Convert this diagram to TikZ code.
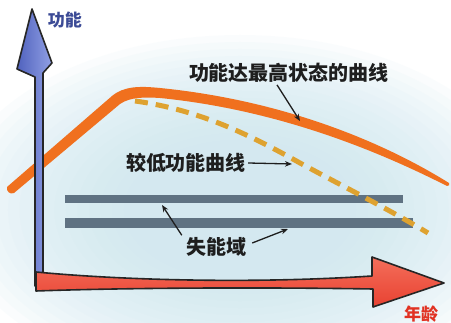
\documentclass[tikz,border=0pt]{standalone}
\usepackage{fontspec}
\newfontfamily\cjk{Noto Sans CJK SC}
\usetikzlibrary{arrows.meta}
\definecolor{glowc}{RGB}{205,232,240}
\definecolor{orangec}{RGB}{240,112,30}
\definecolor{dashc}{RGB}{222,162,48}
\definecolor{barc}{RGB}{95,114,130}
\definecolor{redc}{RGB}{232,66,50}
\definecolor{redl}{RGB}{244,110,90}
\definecolor{bluec}{RGB}{80,98,190}
\definecolor{bluel}{RGB}{145,160,228}
\definecolor{bluetext}{RGB}{60,75,150}
\definecolor{redtext}{RGB}{225,50,35}
\definecolor{textc}{RGB}{30,30,30}
\begin{document}
\begin{tikzpicture}[x=1pt,y=-1pt,
  lbl/.style={font=\cjk\bfseries\fontsize{20}{20}\selectfont, text=textc, inner sep=2pt},
  axlbl/.style={font=\cjk\bfseries\fontsize{17}{17}\selectfont, inner sep=1pt},
  pointer/.style={draw=textc, line width=1.3pt, -{Stealth[length=7pt,width=5.5pt]}},
  bar/.style={fill=barc},
  glowlayer/.style={fill=glowc, fill opacity=0.09},
  outline/.style={draw=black!85, line width=1.6pt, line join=round}]

\useasboundingbox (0,0) rectangle (451,323);
\fill[white] (0,0) rectangle (451,323);
\begin{scope}
  \clip (0,0) rectangle (451,323);
  \foreach \s in {1.00,0.96,...,0.40}
    \fill[glowlayer] (240,210) ellipse [x radius=\s*290pt, y radius=\s*175pt];
\end{scope}

% disability bars
\fill[bar] (65,195) rectangle (403,203);
\fill[bar] (65,218) rectangle (413,228);

% lower function curve (dashed)
\draw[dashc, line width=5pt, dash pattern=on 13pt off 8pt]
  (135,101) .. controls (200,110) and (250,135) .. (300,163)
  .. controls (350,190) and (390,210) .. (428,233);

% peak function curve (orange brush stroke)
\fill[orangec]
  (7,187) -- (112,96) .. controls (124,86) and (140,86) .. (160,88)
  .. controls (280,100) and (380,140) .. (449,183)
  .. controls (450,185) and (449,186) .. (447,186)
  .. controls (380,152) and (280,110) .. (160,98)
  .. controls (145,97) and (130,97) .. (120,104)
  -- (14,193) .. controls (10,195) and (6,191) .. (7,187) -- cycle;

% vertical axis (blue arrow)
\draw[outline, left color=bluec, right color=bluel]
  (35,286) -- (35,77) -- (17,69) -- (32,9) -- (52,63) -- (43,73) -- (43,286) -- cycle;

% horizontal axis (red arrow)
\draw[outline, top color=redl, bottom color=redc]
  (36,272) .. controls (120,280) and (250,284) .. (372,276)
  -- (372,257) -- (444,283) -- (373,307) -- (373,289)
  .. controls (250,287) and (120,288) .. (36,291) -- cycle;

% labels
\node[lbl] (title) at (289,73) {功能达最高状态的曲线};
\node[lbl] (low) at (186,163) {较低功能曲线};
\node[lbl] (dis) at (216,247) {失能域};
\node[axlbl, text=bluetext] (ylab) at (65,20) {功能};
\node[axlbl, text=redtext] (xlab) at (421,314) {年龄};

% pointer targets
\coordinate (ptop) at (300,121);
\coordinate (pdash) at (292,164);
\coordinate (pbar1) at (162,205);
\coordinate (pbar2) at (288,229);

\draw[pointer] ([xshift=-12pt]title.south) -- (ptop);
\draw[pointer] (low.east) -- (pdash);
\draw[pointer] ([xshift=-2pt]dis.north west) -- (pbar1);
\draw[pointer] ([xshift=4pt,yshift=4pt]dis.east) -- (pbar2);
\end{tikzpicture}
\end{document}
